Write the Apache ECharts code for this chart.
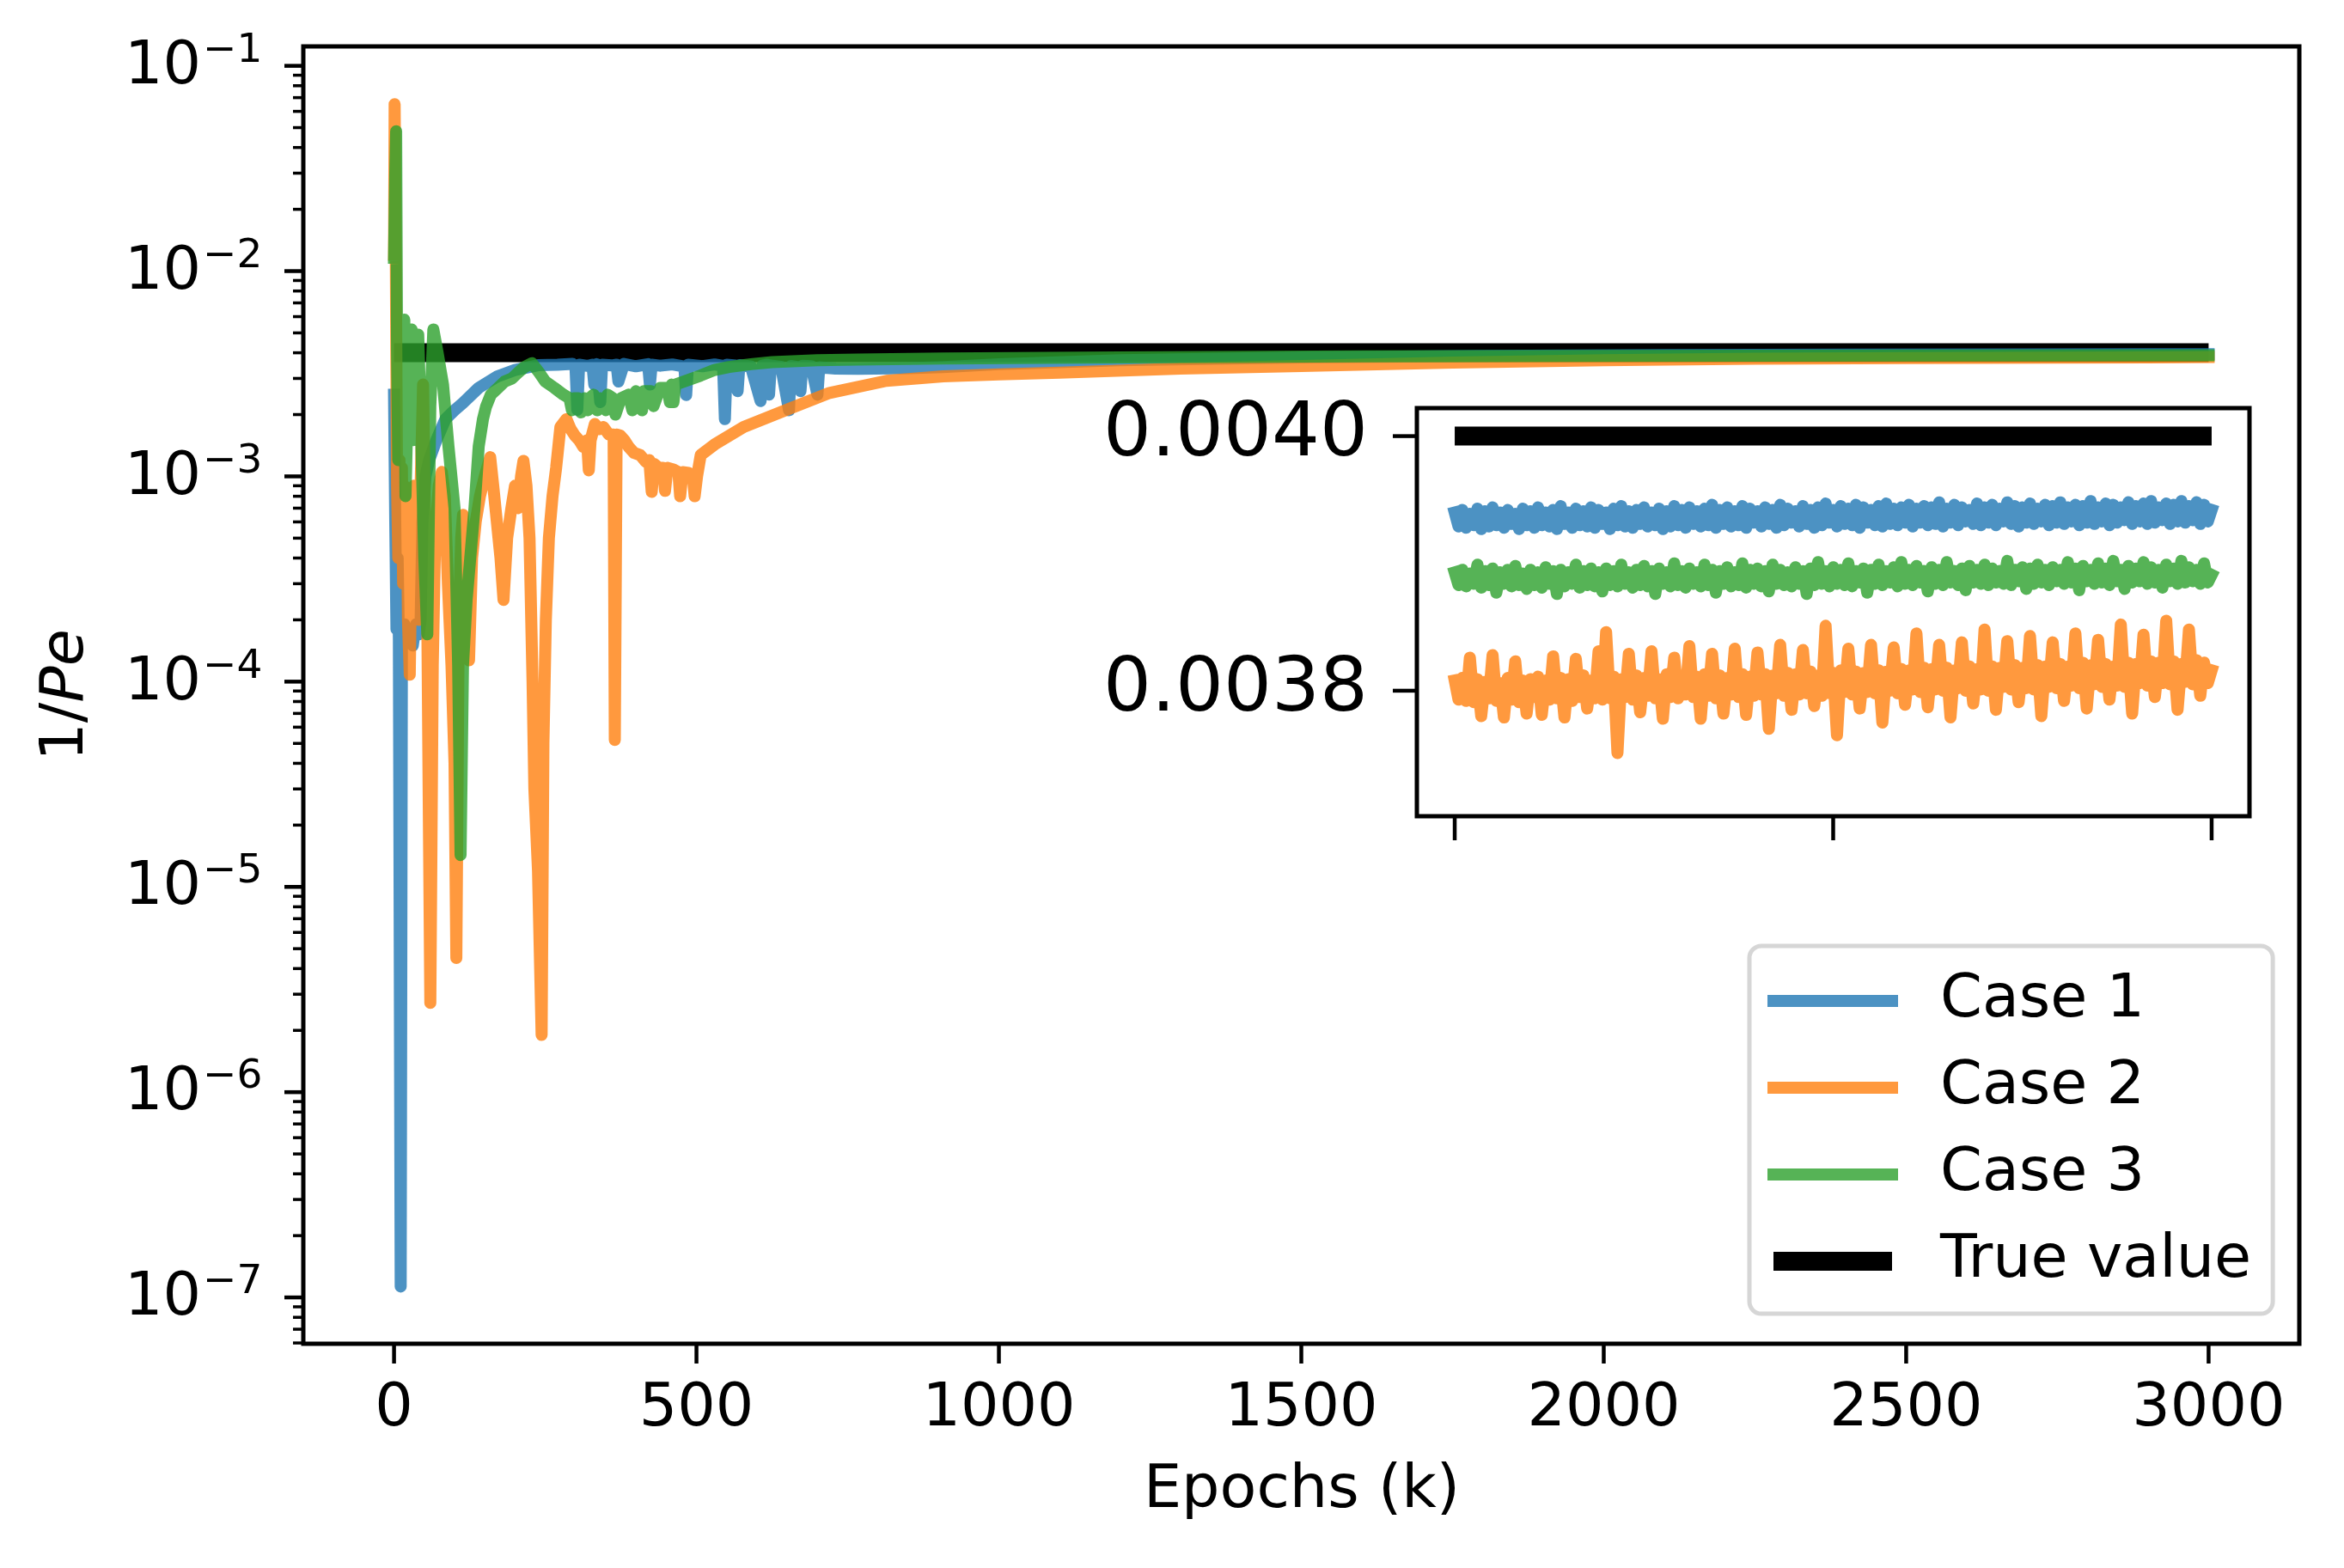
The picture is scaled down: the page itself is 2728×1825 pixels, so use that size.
<!DOCTYPE html>
<html>
<head>
<meta charset="utf-8">
<script src="https://cdn.jsdelivr.net/npm/echarts@6/dist/echarts.min.js"></script>
<style>
html, body { margin: 0; padding: 0; background: #fff; }
#main { width: 2728px; height: 1825px; }
</style>
</head>
<body>
<div id="main"></div>
<script>
// main plot, epochs in thousands
var case1Epochs = [0,2,4,6,8,11,13,17,21,26,31,36,41,44,47,52,58,70,85,100,114,140,171,200,238,270,295,300,303,306,320,328,331,335,341,344,360,368,371,380,400,420,423,426,440,460,480,483,486,510,530,544,547,550,565,568,571,590,606,609,617,620,623,640,653,656,669,672,675,690,700,703,730,767,850,908,1000,1200,1500,1800,2100,2400,2700,2900,3000];
var case1Values = [0.0025,0.0006,0.00018,0.0004,0.00016,1.13e-7,0.00015,0.00019,0.00016,0.00018,0.00015,0.00019,0.00017,0.0002,0.0006,0.001,0.0012,0.0015,0.0019,0.0021,0.00228,0.0027,0.00307,0.0033,0.00348,0.0035,0.00353,0.0034,0.00211,0.0035,0.00345,0.0035,0.0028,0.00352,0.0023,0.0035,0.00347,0.0035,0.0029,0.00353,0.00344,0.00352,0.0028,0.0035,0.00346,0.00351,0.00343,0.00249,0.0035,0.00344,0.00351,0.00345,0.0019,0.0035,0.00347,0.0026,0.00348,0.00343,0.00233,0.00346,0.0035,0.0025,0.00347,0.00342,0.0021,0.00345,0.0034,0.0026,0.00346,0.00344,0.0025,0.0034,0.00335,0.00334,0.00337,0.00341,0.00352,0.00368,0.0038,0.00386,0.0039,0.00392,0.00393,0.003935,0.00394];

var case2Epochs = [0,1,3,5,7,9,11,13,15,17,19,21,23,26,29,33,37,41,44,48,51,55,60,64,68,74,79,84,89,95,100,103,107,111,114,118,124,129,135,142,150,159,164,170,176,181,187,194,200,205,210,214,219,224,229,232,238,244,247,251,256,262,268,275,285,292,299,306,313,319,322,325,332,339,346,355,363,365,368,374,381,388,397,407,416,422,426,430,438,445,448,452,462,470,473,477,487,494,497,501,507,530,578,649,720,814,908,1000,1100,1300,1500,1750,2000,2250,2500,2750,2900,3000];
var case2Values = [0.012,0.065,0.011,0.0009,0.0004,0.0012,0.0005,0.0011,0.0003,0.0009,0.00035,0.0008,0.0002,0.000108,0.0005,0.0009,0.0003,0.0002,0.0009,0.0028,0.0007,0.0002,2.72e-6,0.00012,0.0005,0.0009,0.00105,0.0008,0.0003,0.00012,0.00004,4.5e-6,0.0002,0.0005,0.00065,0.0004,0.000127,0.0004,0.0006,0.0008,0.001,0.00124,0.0009,0.0006,0.0004,0.00025,0.0005,0.0007,0.0009,0.0007,0.001,0.00119,0.0009,0.0005,0.0001,0.00003,0.000012,1.9e-6,0.00005,0.0002,0.0005,0.0008,0.0011,0.00174,0.0019,0.0017,0.00158,0.0015,0.00139,0.0015,0.00107,0.0015,0.0018,0.0017,0.00174,0.0016,0.0016,5.2e-5,0.0016,0.00158,0.0015,0.00139,0.0013,0.00127,0.00118,0.0012,0.00084,0.00115,0.0011,0.0011,0.00085,0.0011,0.00108,0.00105,0.0008,0.00105,0.00104,0.001,0.0008,0.001,0.00127,0.00143,0.00174,0.00211,0.00255,0.00292,0.00307,0.00314,0.0032,0.00335,0.00345,0.00358,0.00368,0.00374,0.00377,0.00379,0.0038,0.003815];

var case3Epochs = [0,2,3.5,5,7,10,14,17,19,22,26,29,32,36,40,45,50,55,60,65,72,81,90,100,106,110,114,120,126,133,140,147,152,160,171,183,195,205,215,228,240,250,265,280,290,294,297,305,309,315,320,323,330,336,341,350,353,362,366,375,388,394,398,400,410,413,425,429,440,452,456,459,462,465,480,507,530,554,590,625,700,767,908,1200,1600,2000,2500,2900,3000];
var case3Values = [0.0116,0.03,0.048,0.004,0.0012,0.0025,0.004,0.0058,0.0008,0.002,0.0045,0.0052,0.0015,0.004,0.0049,0.0015,0.0004,0.00017,0.0022,0.0052,0.004,0.0028,0.0014,0.0007,0.00012,1.43e-5,0.00012,0.00025,0.0004,0.0007,0.0014,0.0019,0.00218,0.0025,0.00268,0.0029,0.003,0.0032,0.0034,0.00356,0.0032,0.0029,0.0027,0.0025,0.0024,0.0021,0.0024,0.0024,0.00205,0.0024,0.0021,0.0024,0.0025,0.0021,0.0024,0.0021,0.0025,0.0024,0.002,0.0024,0.0025,0.0021,0.0025,0.0026,0.0021,0.0026,0.0026,0.0022,0.0027,0.0027,0.0023,0.0028,0.0023,0.0028,0.0029,0.0031,0.0033,0.00341,0.00352,0.0036,0.00368,0.00371,0.00375,0.0038,0.00384,0.00386,0.00388,0.003888,0.00389];

var trueValue = 0.004;
var trueEpochs = [0, 3000];

// inset: last 100k epochs, one value every 0.5k, in units of 1e-6
var insetStart = 2900;
var insetStep = 0.5;
var insetCase1 = [
3940,3929,3942,3928,3939,3930,3943,3927,3941,3929,3944,3930,3940,3928,3942,3931,3939,3927,3943,3930,
3941,3928,3944,3930,3940,3929,3942,3927,3945,3931,3940,3928,3943,3930,3941,3929,3944,3928,3942,3931,
3940,3927,3943,3930,3945,3929,3941,3928,3942,3931,3944,3929,3940,3930,3943,3927,3941,3929,3945,3930,
3942,3928,3944,3931,3941,3929,3943,3930,3946,3928,3942,3931,3944,3929,3941,3930,3945,3928,3943,3932,
3941,3929,3944,3931,3942,3928,3946,3930,3943,3932,3941,3929,3945,3931,3942,3928,3944,3930,3947,3932,
3942,3929,3945,3931,3943,3930,3946,3928,3944,3932,3942,3930,3945,3929,3947,3931,3943,3930,3944,3932,
3946,3929,3943,3932,3945,3930,3944,3931,3948,3929,3943,3932,3946,3930,3944,3933,3942,3931,3947,3930,
3944,3932,3946,3930,3943,3933,3948,3931,3945,3929,3944,3932,3947,3931,3943,3933,3946,3930,3945,3932,
3948,3931,3944,3933,3946,3930,3945,3932,3949,3931,3944,3933,3947,3930,3946,3932,3944,3934,3948,3931,
3945,3933,3947,3931,3949,3932,3944,3934,3947,3931,3946,3933,3949,3932,3945,3934,3948,3931,3946,3933,
3942];
var insetCase2 = [
3808,3793,3810,3792,3826,3791,3809,3780,3807,3794,3828,3792,3806,3779,3810,3793,3823,3791,3808,3782,
3809,3795,3811,3781,3808,3793,3827,3794,3810,3779,3809,3792,3825,3795,3812,3786,3808,3794,3831,3793,
3846,3794,3811,3751,3809,3795,3829,3793,3812,3783,3810,3796,3831,3794,3809,3778,3813,3795,3826,3794,
3812,3797,3835,3795,3811,3778,3813,3796,3829,3794,3812,3782,3810,3797,3833,3795,3813,3781,3811,3796,
3830,3797,3813,3770,3812,3798,3836,3796,3814,3785,3813,3797,3832,3798,3815,3788,3812,3796,3851,3798,
3814,3765,3816,3799,3833,3797,3815,3786,3814,3799,3836,3798,3816,3775,3815,3800,3834,3798,3817,3789,
3816,3801,3845,3799,3818,3787,3817,3801,3836,3800,3818,3779,3816,3802,3838,3800,3819,3790,3817,3801,
3848,3800,3819,3785,3818,3803,3839,3801,3820,3791,3818,3802,3843,3801,3820,3780,3819,3803,3838,3802,
3821,3792,3819,3804,3845,3802,3822,3786,3820,3805,3840,3803,3821,3793,3819,3804,3852,3803,3822,3782,
3821,3806,3844,3804,3823,3795,3822,3806,3855,3805,3823,3785,3821,3807,3848,3805,3824,3796,3822,3806,
3816];
var insetCase3 = [
3893,3883,3895,3882,3892,3884,3899,3881,3894,3883,3896,3877,3893,3884,3895,3882,3898,3883,3892,3880,
3895,3883,3893,3881,3897,3884,3894,3876,3895,3882,3893,3884,3899,3881,3894,3883,3896,3882,3893,3878,
3896,3883,3894,3882,3899,3884,3893,3881,3895,3883,3898,3882,3894,3876,3896,3884,3893,3882,3900,3883,
3894,3881,3896,3884,3893,3882,3899,3883,3895,3877,3894,3884,3897,3882,3893,3883,3900,3881,3895,3884,
3896,3882,3894,3878,3899,3884,3895,3883,3893,3882,3897,3884,3894,3876,3896,3883,3901,3884,3894,3882,
3897,3884,3895,3883,3900,3882,3894,3885,3896,3877,3895,3884,3899,3883,3894,3885,3897,3882,3901,3884,
3895,3883,3898,3885,3894,3878,3897,3884,3895,3883,3901,3885,3894,3883,3896,3879,3898,3885,3895,3884,
3899,3883,3896,3885,3894,3884,3902,3883,3895,3886,3897,3880,3896,3884,3899,3885,3895,3883,3897,3886,
3895,3884,3901,3885,3896,3879,3898,3886,3895,3884,3900,3885,3896,3883,3902,3886,3895,3880,3898,3885,
3896,3886,3901,3884,3897,3885,3895,3881,3899,3886,3896,3884,3902,3885,3897,3886,3895,3884,3900,3885,
3891];

// ticks
var xTickValues = [0, 500, 1000, 1500, 2000, 2500, 3000];
var yTickExponents = [-7, -6, -5, -4, -3, -2, -1];
var insetXTicks = [2900, 2950, 3000];
var insetYTicks = [0.0038, 0.0040];
var insetYLabels = ['0.0038', '0.0040'];

var seriesNames = ['Case 1', 'Case 2', 'Case 3', 'True value'];
var colors = ['#1f77b4', '#ff7f0e', '#2ca02c', '#000000'];

function pairs(xs, ys) {
    return xs.map(function(x, i) { return [x, ys[i]]; });
}
function insetPairs(vals) {
    return vals.map(function(v, i) { return [insetStart + i * insetStep, v / 1e6]; });
}

var FONT = 'DejaVu Sans';
var chart = echarts.init(document.getElementById('main'));

var hiddenAxis = {
    axisLine: { show: false },
    axisTick: { show: false },
    axisLabel: { show: false },
    splitLine: { show: false }
};

function caseSeries(i, data, xi) {
    return {
        name: seriesNames[i],
        type: 'line',
        xAxisIndex: xi,
        yAxisIndex: xi,
        data: data,
        symbol: 'none',
        showSymbol: false,
        lineStyle: { color: colors[i], width: 14, opacity: 0.8, cap: 'square', join: 'round' },
        itemStyle: { color: colors[i], opacity: 0.8 },
        z: 3
    };
}
function trueSeries(data, xi) {
    return {
        name: seriesNames[3],
        type: 'line',
        xAxisIndex: xi,
        yAxisIndex: xi,
        data: data,
        symbol: 'none',
        showSymbol: false,
        lineStyle: { color: '#000', width: 22, cap: 'butt' },
        itemStyle: { color: '#000' },
        z: 2
    };
}

var option = {
    animation: false,
    backgroundColor: '#fff',
    textStyle: { fontFamily: FONT },
    grid: [
        { left: 353, top: 54, width: 2323, height: 1510, show: true, borderColor: '#000', borderWidth: 5, backgroundColor: 'rgba(0,0,0,0)' },
        { left: 1649, top: 475, width: 969, height: 475, show: true, borderColor: '#000', borderWidth: 5, backgroundColor: '#fff', z: 4 }
    ],
    xAxis: [
        Object.assign({ gridIndex: 0, type: 'value', min: -150, max: 3150 }, hiddenAxis),
        Object.assign({ gridIndex: 1, type: 'value', min: 2895, max: 3005 }, hiddenAxis)
    ],
    yAxis: [
        Object.assign({ gridIndex: 0, type: 'log', logBase: 10, min: Math.pow(10, -7.2257), max: Math.pow(10, -0.9053) }, hiddenAxis),
        Object.assign({ gridIndex: 1, type: 'value', min: 0.0037014, max: 0.004022 }, hiddenAxis)
    ],
    legend: {
        orient: 'vertical',
        left: 2036,
        top: 1101,
        selectedMode: false,
        itemWidth: 138,
        itemHeight: 22,
        itemGap: 31,
        padding: [29, 25, 26, 17],
        backgroundColor: '#fff',
        borderColor: '#d6d6d6',
        borderWidth: 5,
        borderRadius: 14,
        itemStyle: { opacity: 0 },
        lineStyle: { width: 'inherit' },
        textStyle: { fontFamily: FONT, fontSize: 70, lineHeight: 70, color: '#000', padding: [0, 0, 0, 51] },
        data: seriesNames,
        z: 10
    },
    series: [
        trueSeries(pairs(trueEpochs, [trueValue, trueValue]), 0),
        caseSeries(0, pairs(case1Epochs, case1Values), 0),
        caseSeries(1, pairs(case2Epochs, case2Values), 0),
        caseSeries(2, pairs(case3Epochs, case3Values), 0),
        Object.assign(trueSeries([[insetXTicks[0], trueValue], [insetXTicks[2], trueValue]], 1), { z: 5 }),
        Object.assign(caseSeries(0, insetPairs(insetCase1), 1), { z: 6 }),
        Object.assign(caseSeries(1, insetPairs(insetCase2), 1), { z: 6 }),
        Object.assign(caseSeries(2, insetPairs(insetCase3), 1), { z: 6 })
    ]
};
chart.setOption(option);

// matplotlib-like ticks and labels, placed through the axes' own scales
var g = [];
function tick(x1, y1, x2, y2, w) {
    g.push({ type: 'line', silent: true, z: 20, shape: { x1: x1, y1: y1, x2: x2, y2: y2 }, style: { stroke: '#000', lineWidth: w } });
}
function label(x, y, text, size, align) {
    g.push({ type: 'text', silent: true, z: 20, x: x, y: y,
        style: { text: text, fontFamily: FONT, fontSize: size, fill: '#000',
            align: align, textAlign: align, verticalAlign: 'middle', textVerticalAlign: 'middle' } });
}
var mainBottom = 1564, mainLeft = 353;
xTickValues.forEach(function(v) {
    var p = chart.convertToPixel({ gridIndex: 0 }, [v, trueValue]);
    tick(p[0], mainBottom, p[0], mainBottom + 23, 4.5);
    label(p[0], 1641, String(v), 70, 'center');
});
yTickExponents.forEach(function(k) {
    var p = chart.convertToPixel({ gridIndex: 0 }, [0, Math.pow(10, k)]);
    tick(mainLeft, p[1], mainLeft - 22, p[1], 4.5);
    label(mainLeft - 119, p[1] + 2, '10', 70, 'right');
    label(mainLeft - 117, p[1] - 17, '\u2212' + (-k), 47, 'left');
});
var yExt = [Math.pow(10, -7.2257), Math.pow(10, -0.9053)];
for (var k = -8; k <= -1; k++) {
    for (var m = 2; m <= 9; m++) {
        var v = m * Math.pow(10, k);
        if (v < yExt[0] || v > yExt[1]) continue;
        var p = chart.convertToPixel({ gridIndex: 0 }, [0, v]);
        tick(mainLeft, p[1], mainLeft - 12, p[1], 3.5);
    }
}
// inset ticks
insetXTicks.forEach(function(v) {
    var p = chart.convertToPixel({ gridIndex: 1 }, [v, 0.0038]);
    tick(p[0], 950, p[0], 978, 4.5);
});
insetYTicks.forEach(function(v, i) {
    var p = chart.convertToPixel({ gridIndex: 1 }, [2900, v]);
    tick(1649, p[1], 1621, p[1], 4.5);
    label(1592, p[1], insetYLabels[i], 88, 'right');
});
// axis titles
label(1515, 1736, 'Epochs (k)', 70, 'center');
g.push({ type: 'text', silent: true, z: 20, x: 78, y: 809, rotation: Math.PI / 2,
    style: { text: '{n|1/}{i|Pe}', fontFamily: FONT, fontSize: 70, fill: '#000',
        align: 'center', textAlign: 'center', verticalAlign: 'middle', textVerticalAlign: 'middle',
        rich: { n: { fontFamily: FONT, fontSize: 70 }, i: { fontFamily: FONT, fontSize: 70, fontStyle: 'italic' } } } });
chart.setOption({ graphic: g });
</script>
</body>
</html>
